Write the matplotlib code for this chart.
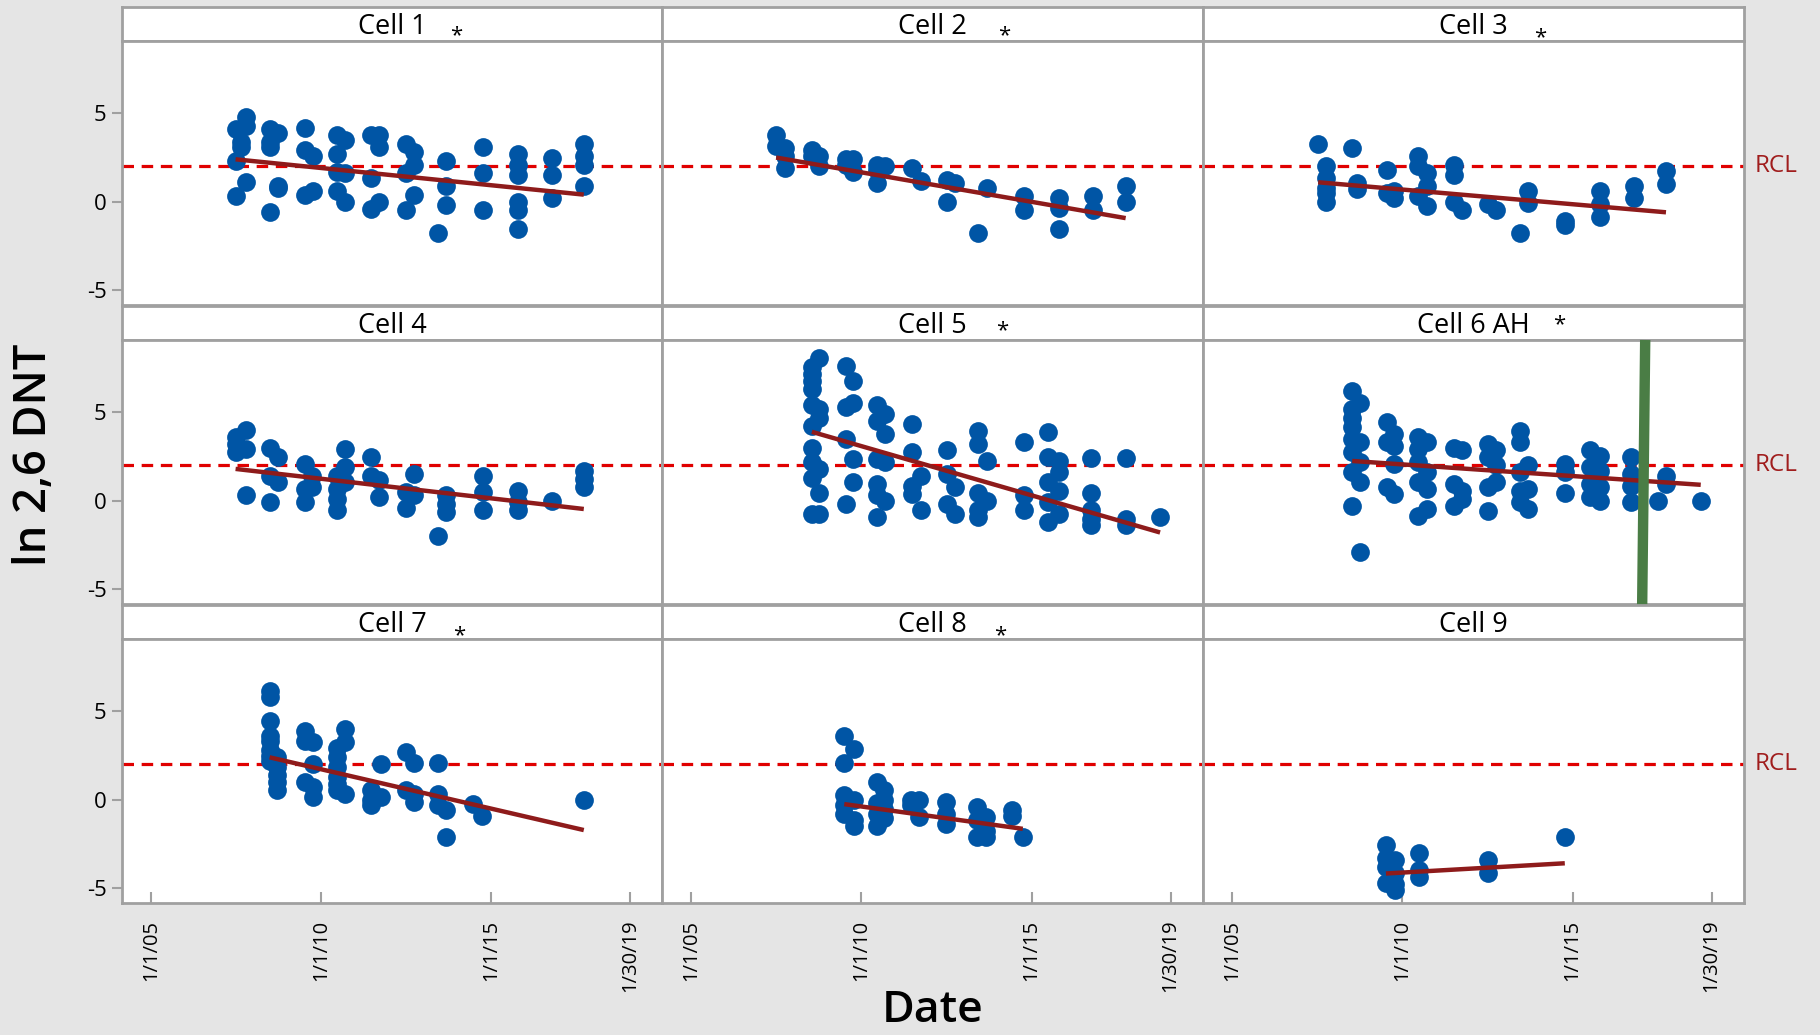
import matplotlib.pyplot as plt
import matplotlib.transforms as mtransforms

plt.rcParams['font.family'] = ['Open Sans', 'DejaVu Sans']
plt.rcParams['axes.unicode_minus'] = False

# sampling dates (decimal years) and ln 2,6 DNT values read at each date
cell_names = ['Cell 1', 'Cell 2', 'Cell 3', 'Cell 4', 'Cell 5', 'Cell 6 AH',
              'Cell 7', 'Cell 8', 'Cell 9']
starred = [True, True, True, False, True, True, True, True, False]

c1_dates = [2007.49, 2007.66, 2007.81, 2008.51, 2008.73, 2009.52, 2009.78, 2010.47, 2010.70,
            2011.48, 2011.71, 2012.49, 2012.74, 2013.43, 2013.67, 2014.76, 2015.79, 2016.80, 2017.73]
c1_vals = [[4.1, 2.3, 0.3], [3.4, 3.1], [4.8, 4.3, 1.1], [4.1, 3.4, 3.1, -0.6], [3.9, 0.9, 0.8],
           [4.2, 2.9, 0.4], [2.6, 0.6], [3.8, 2.7, 1.7, 0.6], [3.5, 1.6, 0.0],
           [3.8, 1.35, -0.4], [3.8, 3.1, 0.0], [3.25, 1.6, -0.45], [2.8, 2.1, 0.4],
           [-1.8], [2.3, 0.9, -0.2], [3.1, 1.6, -0.45], [2.7, 2.1, 1.5, 0.0, -0.45, -1.55],
           [2.5, 1.5, 0.2], [3.25, 2.6, 2.1, 0.9]]

c2_dates = [2007.50, 2007.77, 2008.55, 2008.76, 2009.55, 2009.76, 2010.47, 2010.70, 2011.49,
            2011.75, 2012.51, 2012.75, 2013.43, 2013.69, 2014.77, 2015.79, 2016.80, 2017.76]
c2_vals = [[3.8, 3.15], [3.05, 2.6, 1.9], [2.9, 2.6], [2.6, 2.0], [2.4, 2.1], [2.4, 1.7],
           [2.1, 1.8, 1.05], [2.0], [1.9], [1.15], [1.25, 0.0], [1.05], [-1.8], [0.8],
           [0.3, -0.45], [0.2, -0.35, -1.55], [0.3, -0.45], [0.9, 0.0]]

c3_dates = [2007.53, 2007.75, 2008.53, 2008.67, 2009.54, 2009.77, 2010.47, 2010.72, 2011.51,
            2011.74, 2012.53, 2012.76, 2013.45, 2013.69, 2014.78, 2015.80, 2016.80, 2017.74]
c3_vals = [[3.25], [2.0, 1.35, 0.8, 0.5, 0.0], [3.05], [1.05, 0.7], [1.8, 0.5], [0.6, 0.2],
           [2.6, 2.0, 0.3], [1.6, 0.9, -0.25], [2.1, 1.5, 0.0], [-0.45], [-0.15], [-0.45],
           [-1.8], [0.6, -0.1], [-1.1, -1.3], [0.6, -0.15, -0.85], [0.9, 0.2], [1.75, 1.0]]

c4_dates = [2007.49, 2007.81, 2008.51, 2008.73, 2009.52, 2009.74, 2010.47, 2010.70, 2011.48,
            2011.71, 2012.49, 2012.74, 2013.43, 2013.67, 2014.76, 2015.79, 2016.80, 2017.73]
c4_vals = [[3.6, 3.2, 2.75], [4.0, 2.9, 0.3], [3.0, 1.4, -0.1], [2.45, 1.05], [2.1, 0.65, -0.1],
           [1.4, 0.75], [1.4, 0.65, 0.1, -0.55], [2.9, 1.9, 1.05], [2.45, 1.4], [1.2, 0.2],
           [0.5, -0.4], [1.5, 0.3], [-2.0], [0.3, -0.2, -0.65], [1.4, 0.5, -0.5],
           [0.55, -0.1, -0.55], [0.0], [1.7, 1.25, 0.75]]

c5_dates = [2008.55, 2008.76, 2009.55, 2009.76, 2010.47, 2010.70, 2011.49, 2011.75, 2012.51,
            2012.75, 2013.43, 2013.69, 2014.77, 2015.49, 2015.79, 2016.73, 2017.76, 2018.77]
c5_vals = [[7.55, 7.2, 6.8, 6.3, 5.4, 4.25, 3.0, 2.2, 1.3, -0.75],
           [8.1, 5.2, 4.7, 1.8, 0.45, -0.75], [7.65, 5.3, 3.5, -0.2], [6.8, 5.55, 2.35, 1.05],
           [5.4, 4.5, 2.35, 0.95, 0.3, -0.95], [4.9, 3.8, 2.2, 0.0], [4.35, 2.75, 0.85, 0.4],
           [1.4, -0.5], [2.85, 1.5, -0.2], [0.75, -0.75], [3.95, 3.2, 0.45, -0.5, -0.95],
           [2.25, 0.0], [3.3, 0.3, -0.55], [3.9, 2.45, 1.05, -0.1, -1.2],
           [2.25, 1.6, 0.55, -0.75], [2.4, 0.45, -0.55, -1.05, -1.4], [2.4, -1.05, -1.4], [-0.95]]

c6_dates = [2008.53, 2008.76, 2009.54, 2009.77, 2010.47, 2010.72, 2011.51, 2011.74, 2012.53,
            2012.76, 2013.45, 2013.69, 2014.78, 2015.51, 2015.80, 2016.72, 2017.51, 2017.74, 2018.76]
c6_vals = [[6.2, 5.2, 4.7, 4.15, 3.5, 2.75, 1.6, -0.3], [5.55, 3.3, 2.2, 1.05, -2.9],
           [4.45, 3.3, 0.75], [3.8, 3.1, 2.1, 0.4], [3.6, 2.9, 2.2, 1.05, -0.85],
           [3.3, 1.6, 0.65, -0.45], [3.0, 0.95, -0.3], [2.85, 0.55, 0.1], [3.2, 2.45, 0.75, -0.6],
           [2.85, 2.0, 1.05], [3.95, 3.35, 1.6, 0.55, -0.1], [2.0, 0.65, -0.45], [2.1, 1.6, 0.45],
           [2.85, 1.9, 0.95, 0.2], [2.55, 1.7, 0.75, 0.0], [2.45, 1.5, 0.85, -0.1], [0.0],
           [1.4, 0.95], [0.0]]

c7_dates = [2008.49, 2008.70, 2009.52, 2009.78, 2010.47, 2010.70, 2011.48, 2011.76, 2012.49,
            2012.74, 2013.45, 2013.67, 2014.46, 2014.74, 2017.73]
c7_vals = [[6.15, 5.8, 4.45, 3.6, 3.35, 2.8, 2.5, 2.2], [2.4, 1.85, 1.4, 1.0, 0.55],
           [3.9, 3.35, 1.0], [3.25, 2.0, 0.7, 0.15], [2.95, 2.4, 1.85, 1.3, 0.9, 0.55],
           [4.0, 3.25, 0.35], [0.55, 0.0, -0.3], [2.0, 0.15], [2.7, 0.55], [2.1, 0.35, -0.15],
           [2.05, 0.35, -0.3], [-0.6, -2.1], [-0.25], [-0.9], [0.0]]

c8_dates = [2009.50, 2009.79, 2010.45, 2010.68, 2011.46, 2011.70, 2012.49, 2013.40, 2013.66,
            2014.42, 2014.74]
c8_vals = [[3.6, 2.05, 0.25, -0.3, -0.8], [2.85, 0.0, -1.15, -1.5], [1.0, -0.2, -0.8, -1.5],
           [0.55, 0.0, -0.5, -1.05], [0.0, -0.3], [0.0, -1.0], [-0.15, -0.8, -1.35],
           [-0.4, -1.15, -2.1], [-1.0, -1.75, -2.1], [-0.6, -0.9], [-2.1]]

c9_dates = [2009.52, 2009.78, 2010.48, 2012.51, 2014.77]
c9_vals = [[-2.55, -3.3, -3.8, -4.7], [-3.4, -4.15, -4.8, -5.1], [-3.0, -4.0, -4.35],
           [-3.4, -4.15], [-2.1]]

# fitted trend value at first and last sampling date of each cell
trend_start = [2.4, 2.5, 1.1, 1.8, 3.9, 2.25, 2.4, -0.25, -4.18]
trend_end = [0.4, -0.93, -0.6, -0.47, -1.8, 0.9, -1.72, -1.65, -3.6]

rcl = 2.0
tick_years = [2005.0, 2010.0, 2015.0, 2019.08]
tick_labels = ['1/1/05', '1/1/10', '1/1/15', '1/30/19']
marker_year = [2017.13, 2017.04]   # green marker in Cell 6 AH (top, bottom)

all_dates = [c1_dates, c2_dates, c3_dates, c4_dates, c5_dates, c6_dates, c7_dates, c8_dates, c9_dates]
all_vals = [c1_vals, c2_vals, c3_vals, c4_vals, c5_vals, c6_vals, c7_vals, c8_vals, c9_vals]

# layout in pixels
W, H = 1820, 1035
col_left = [122, 662, 1203]
col_w = [540, 541, 541]
row_top = [7, 306, 605]
strip_h, panel_h = 34, 264
star_dx = [64, 72, 67, 0, 70, 86, 67, 68, 0]
star_y = [-0.02, 0.0, -0.06, 0, 0.1, 0.3, -0.06, -0.06, 0]

grey = '#A0A0A0'
fig = plt.figure(figsize=(W / 100, H / 100), dpi=100, facecolor='#E5E5E5')


def px_axes(x, y, w, h):
    return fig.add_axes([x / W, 1 - (y + h) / H, w / W, h / H])


for i, name in enumerate(cell_names):
    r, c = divmod(i, 3)
    strip = px_axes(col_left[c], row_top[r], col_w[c], strip_h)
    strip.set_facecolor('white')
    strip.set_xticks([])
    strip.set_yticks([])
    for s in strip.spines.values():
        s.set_color(grey)
        s.set_linewidth(2)
    strip.text(0.5, 0.4, name, ha='center', va='center', fontsize=19.5, fontweight=500)
    if starred[i]:
        strip.text(0.5 + star_dx[i] / col_w[c], star_y[i], '*', ha='center', va='baseline',
                   fontsize=16)

    ax = px_axes(col_left[c], row_top[r] + strip_h, col_w[c], panel_h)
    for s in ax.spines.values():
        s.set_color(grey)
        s.set_linewidth(2)

    xs, ys = [], []
    for d, vals in zip(all_dates[i], all_vals[i]):
        xs += [d] * len(vals)
        ys += vals
    ax.axhline(rcl, color='#E00000', lw=2.3, ls=(0, (3.6, 2.4)), zorder=1)
    ax.plot(xs, ys, 'o', ms=13.5, color='#0055A5', mec='none', zorder=2)
    ax.plot([min(xs), max(xs)], [trend_start[i], trend_end[i]], color='#8E1B1B', lw=3.2,
            solid_capstyle='butt', zorder=3)

    ax.set_xlim(2004.15, 2020.03)
    ax.set_ylim(-5.85, 9.1)
    ax.set_yticks([-5, 0, 5])
    ax.set_xticks(tick_years)
    if c == 0:
        ax.tick_params(axis='y', direction='out', length=7, width=1.5, color=grey,
                       labelsize=16, pad=4)
    else:
        ax.tick_params(axis='y', length=0, labelleft=False)
    if r == 2:
        ax.set_xticklabels(tick_labels, rotation=90)
        ax.tick_params(axis='x', direction='in', length=8, width=1.5, color=grey,
                       labelsize=14.5, pad=12)
    else:
        ax.tick_params(axis='x', length=0, labelbottom=False)

    if c == 2:
        tr = mtransforms.blended_transform_factory(ax.transAxes, ax.transData)
        ax.text(1.02, rcl, 'RCL', transform=tr, color='#A01D1D', fontsize=17.5,
                ha='left', va='center')
    if name == 'Cell 6 AH':
        ax.plot(marker_year, [9.1, -6.05], color='#4A7D45', lw=7.5, clip_on=False,
                solid_capstyle='butt', zorder=4)

fig.text(35 / W, 1 - 455 / H, 'ln 2,6 DNT', rotation=90, fontsize=32.5, fontweight=600,
         ha='center', va='center')
fig.text(933 / W, 1 - 1010 / H, 'Date', fontsize=32, fontweight=600, ha='center', va='center')

fig.savefig('out.png', dpi=100, facecolor=fig.get_facecolor())
